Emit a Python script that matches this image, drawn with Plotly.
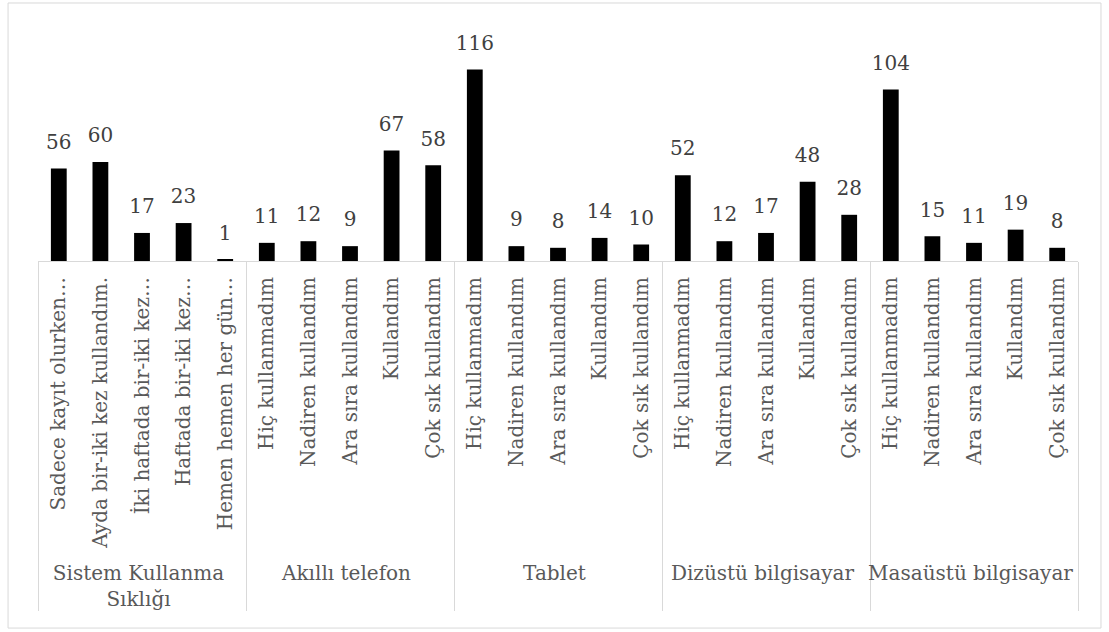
import plotly.graph_objects as go

groups = ["Sistem Kullanma<br>Sıklığı", "Akıllı telefon", "Tablet",
          "Dizüstü bilgisayar", "Masaüstü bilgisayar"]
freq_labels = ["Sadece kayıt olurken…", "Ayda bir-iki kez kullandım.",
               "İki haftada bir-iki kez…", "Haftada bir-iki kez…",
               "Hemen hemen her gün…"]
device_labels = ["Hiç kullanmadım", "Nadiren kullandım", "Ara sıra kullandım",
                 "Kullandım", "Çok sık kullandım"]

sistem_values = [56, 60, 17, 23, 1]
akilli_values = [11, 12, 9, 67, 58]
tablet_values = [116, 9, 8, 14, 10]
dizustu_values = [52, 12, 17, 48, 28]
masaustu_values = [104, 15, 11, 19, 8]

cat_lists = [freq_labels, device_labels, device_labels, device_labels, device_labels]
val_lists = [sistem_values, akilli_values, tablet_values, dizustu_values, masaustu_values]

outer, inner, values = [], [], []
for g, cats, vals in zip(groups, cat_lists, val_lists):
    for c, v in zip(cats, vals):
        outer.append(g)
        inner.append(c)
        values.append(v)

FONT = "DejaVu Serif"

fig = go.Figure()
fig.add_trace(go.Bar(
    x=[outer, inner], y=values, marker=dict(color="black", line=dict(width=0)),
    width=0.38, showlegend=False, hoverinfo="skip"))
fig.add_trace(go.Scatter(
    x=[outer, inner], y=values, mode="markers+text",
    text=[str(v) for v in values], textposition="top center",
    marker=dict(size=22, opacity=0), cliponaxis=False,
    textfont=dict(family=FONT, size=20, color="#404040"),
    showlegend=False, hoverinfo="skip"))

fig.update_xaxes(
    type="multicategory", tickangle=-90, showdividers=True,
    range=[-0.5, len(values) - 0.5], autorange=False,
    dividercolor="#d9d9d9", dividerwidth=1, showline=True, linecolor="#d9d9d9",
    linewidth=1, ticks="", showgrid=False, zeroline=False, ticklabelstandoff=7,
    tickfont=dict(family=FONT, size=20, color="#595959"))
fig.update_yaxes(range=[0, 140], visible=False, showgrid=False)

# outer chart frame
fig.add_shape(type="rect", xref="paper", yref="paper",
              x0=-0.0288, x1=1.0221, y0=-1.589, y1=1.1169,
              line=dict(color="#d9d9d9", width=1), fillcolor="rgba(0,0,0,0)")

fig.update_layout(
    width=1109, height=632, autosize=False,
    margin=dict(l=38, r=31, t=30, b=371, autoexpand=False),
    plot_bgcolor="white", paper_bgcolor="white",
    font=dict(family=FONT, size=20, color="#595959"),
    bargap=0.62)

fig.write_html("out.html")
